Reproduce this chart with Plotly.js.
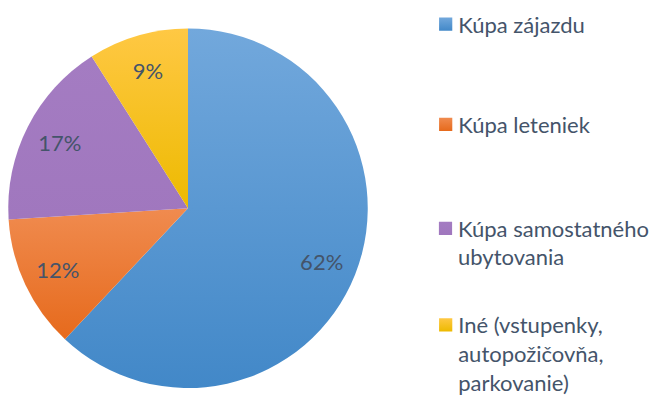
<!DOCTYPE html>
<html>
<head>
<meta charset="utf-8">
<script src="https://cdn.plot.ly/plotly-3.0.1.min.js"></script>
<style>html,body{margin:0;padding:0;background:#fff}#chart{width:654px;height:403px}</style>
</head>
<body>
<div id="chart"></div>
<script>
const categories = ["Kúpa zájazdu", "Kúpa leteniek", "Kúpa samostatného ubytovania", "Iné (vstupenky, autopožičovňa, parkovanie)"];
const legendLines = [["Kúpa zájazdu"], ["Kúpa leteniek"], ["Kúpa samostatného", "ubytovania"], ["Iné (vstupenky,", "autopožičovňa,", "parkovanie)"]];
const values = [62, 12, 17, 9];
const colors = ["#5B9BD5", "#ED7D31", "#A27BC0", "#FFC000"];
const gradTop = ["#72A8DC", "#F08B4F", "#A47CC2", "#FFC844"];
const gradBottom = ["#4288C8", "#E66A1C", "#A077BE", "#EDBA00"];
// top of each legend entry, pixels from the top of the picture
const legendTops = [3.5, 107.5, 215.5, 316];

const labels = legendLines.map(l => l.join("<br>"));
// target pie box in pixels: left, right, top, bottom
const pieBox = {l: 8, r: 368, t: 28.5, b: 388.5};

function domainFor(gs) {
  return {
    x: [(pieBox.l - gs.l) / gs.w, (pieBox.r - gs.l) / gs.w],
    y: [1 - (pieBox.b - gs.t) / gs.h, 1 - (pieBox.t - gs.t) / gs.h]
  };
}
const dom0 = domainFor({l: 0, t: 0, w: 654, h: 403});
const legendIds = labels.map((_, i) => i === 0 ? "legend" : "legend" + (i + 1));

const data = [{
  type: "pie",
  labels: labels,
  values: values,
  sort: false,
  direction: "clockwise",
  rotation: 0,
  showlegend: false,
  marker: {colors: colors, line: {width: 0}},
  textinfo: "none",
  domain: dom0,
  hoverinfo: "label+percent"
}, {
  type: "pie",
  labels: labels,
  values: values,
  sort: false,
  direction: "clockwise",
  rotation: 0,
  hole: 0.6,
  showlegend: false,
  marker: {colors: values.map(() => "rgba(0,0,0,0)"), line: {width: 0}},
  textinfo: "percent",
  texttemplate: "%{percent:.0%}",
  textposition: "inside",
  insidetextorientation: "horizontal",
  textfont: {family: "Lato, 'Open Sans', sans-serif", size: 22, color: "#44546A"},
  domain: dom0,
  hoverinfo: "skip"
}];

// one legend entry per category, each in its own legend box so the entries can be spaced like the original
labels.forEach((lab, i) => {
  data.push({
    type: "pie",
    labels: [lab],
    values: [values[i]],
    marker: {colors: [colors[i]], line: {width: 0}},
    textinfo: "none",
    hoverinfo: "skip",
    domain: {x: [0, 0.0001], y: [0, 0.0001]},
    legend: legendIds[i],
    showlegend: true
  });
});

const layout = {
  width: 654, height: 403,
  margin: {l: 0, r: 0, t: 0, b: 0},
  paper_bgcolor: "#ffffff"
};
legendIds.forEach((id, i) => {
  layout[id] = {
    x: 428/654, y: 1 - legendTops[i]/403, xanchor: "left", yanchor: "top",
    font: {family: "Lato, 'Open Sans', sans-serif", size: 22, color: "#44546A"},
    valign: "top",
    itemwidth: 30,
    bgcolor: "rgba(0,0,0,0)"
  };
});

function decorate(gd) {
  const svg = gd.querySelector(".main-svg");
  const ns = "http://www.w3.org/2000/svg";
  let defs = svg.querySelector("defs");
  if (!defs) { defs = document.createElementNS(ns, "defs"); svg.insertBefore(defs, svg.firstChild); }
  colors.forEach((c, i) => {
    if (svg.querySelector("#sliceGrad" + i)) return;
    const g = document.createElementNS(ns, "linearGradient");
    g.setAttribute("id", "sliceGrad" + i);
    g.setAttribute("x1", "0"); g.setAttribute("y1", "0");
    g.setAttribute("x2", "0"); g.setAttribute("y2", "1");
    const s1 = document.createElementNS(ns, "stop");
    s1.setAttribute("offset", "0"); s1.setAttribute("stop-color", gradTop[i]);
    const s2 = document.createElementNS(ns, "stop");
    s2.setAttribute("offset", "1"); s2.setAttribute("stop-color", gradBottom[i]);
    g.appendChild(s1); g.appendChild(s2); defs.appendChild(g);
  });
  const firstTrace = gd.querySelectorAll(".pielayer .trace")[0];
  firstTrace.querySelectorAll(".slice path.surface").forEach((p, i) => {
    p.style.fill = "url(#sliceGrad" + i + ")";
  });
  legendIds.forEach((id, i) => {
    const lg = gd.querySelector(".infolayer ." + id);
    if (!lg) return;
    lg.querySelectorAll(".legendpoints path").forEach(p => {
      const t = p.getAttribute("transform") || "";
      p.setAttribute("transform", t + " translate(7.5,0) scale(1.1)");
      p.style.fill = "url(#sliceGrad" + i + ")";
    });
  });
}

Plotly.newPlot("chart", data, layout, {displayModeBar: false, staticPlot: true}).then(gd => {
  const gs = gd._fullLayout._size;
  const dom = domainFor(gs);
  return Plotly.restyle(gd, {domain: [dom, dom]}, [0, 1]);
}).then(gd => decorate(gd || document.getElementById("chart")));
</script>
</body>
</html>
